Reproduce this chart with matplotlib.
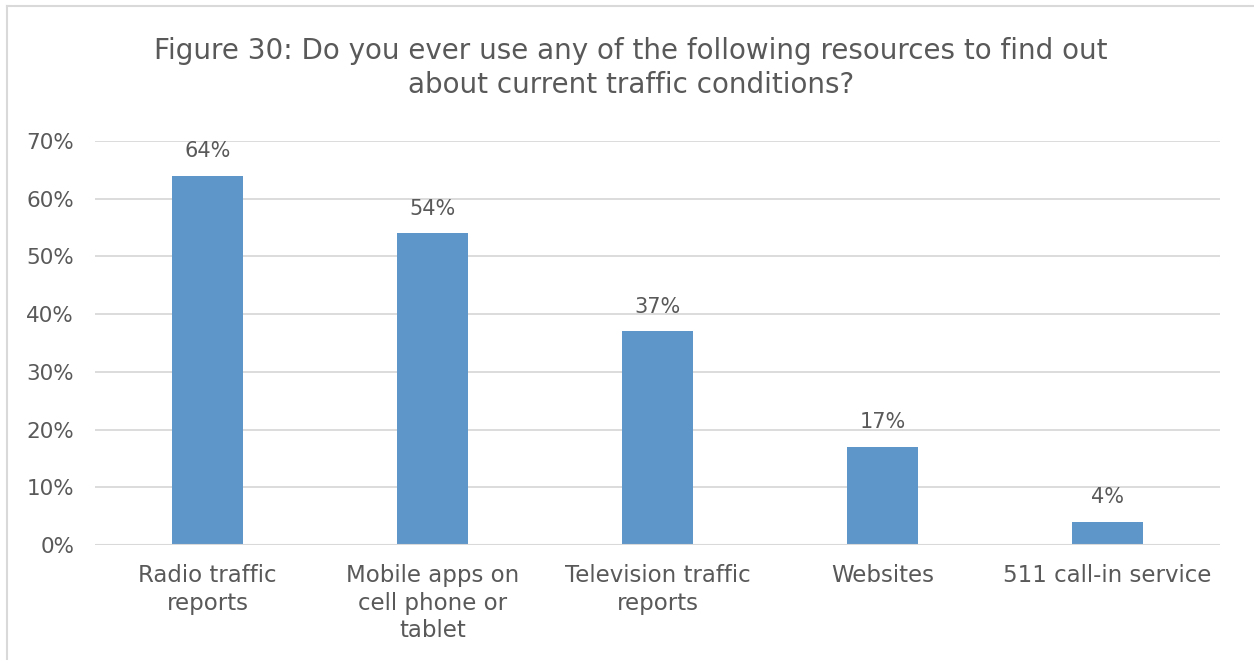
import matplotlib.pyplot as plt
from matplotlib.lines import Line2D

categories = ["Radio traffic\nreports", "Mobile apps on\ncell phone or\ntablet",
              "Television traffic\nreports", "Websites", "511 call-in service"]
values = [64, 54, 37, 17, 4]
yticks = [0, 10, 20, 30, 40, 50, 60, 70]

text_color = "#595959"
bar_color = "#5F96C9"
grid_color = "#D9D9D9"

plt.rcParams['font.family'] = 'DejaVu Sans'

fig = plt.figure(figsize=(12.54, 6.6), dpi=100)
ax = fig.add_axes([95 / 1254, 1 - 545 / 660, 1125 / 1254, 404 / 660])

x = range(len(categories))
ax.bar(x, values, width=0.316, color=bar_color, zorder=3)
for xi, v in zip(x, values):
    ax.text(xi, v + 2.5, f"{v}%", ha='center', va='bottom',
            fontsize=15, color=text_color)

ax.set_xlim(-0.5, len(categories) - 0.5)
ax.set_ylim(0, 70)
ax.set_yticks(yticks)
ax.set_yticklabels([f"{t}%" for t in yticks], fontsize=15.5, color=text_color)
ax.set_xticks(list(x))
ax.set_xticklabels(categories, fontsize=16.5, color=text_color, linespacing=1.25)
ax.tick_params(axis='y', length=0, pad=15)
ax.tick_params(axis='x', length=0, pad=14)
ax.yaxis.grid(True, color=grid_color, linewidth=1.3, zorder=0)
for s in ax.spines.values():
    s.set_visible(False)
ax.axhline(0, color=grid_color, linewidth=1.5, zorder=4)

fig.text(0.503, 1 - 68 / 660,
         "Figure 30: Do you ever use any of the following resources to find out\nabout current traffic conditions?",
         ha='center', va='center', fontsize=20, color=text_color, linespacing=1.3)

# outer frame: only top and left edges show
fig.add_artist(Line2D([7 / 1254, 7 / 1254], [0, 1 - 6 / 660], color=grid_color, linewidth=1.5))
fig.add_artist(Line2D([7 / 1254, 1], [1 - 6 / 660, 1 - 6 / 660], color=grid_color, linewidth=1.5))

fig.savefig("out.png", dpi=100)
